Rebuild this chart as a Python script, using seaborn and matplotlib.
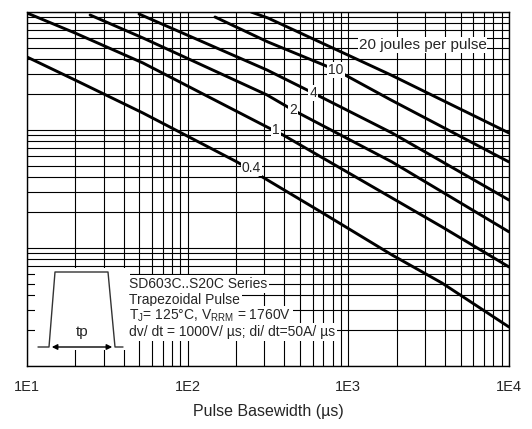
import matplotlib
matplotlib.use("Agg")
import matplotlib.pyplot as plt
import numpy as np
import pandas as pd
import seaborn as sns
from matplotlib.patches import Rectangle
from matplotlib.ticker import LogLocator, NullFormatter, FixedLocator

# curves: pulse basewidth (us) vs peak value
width_04 = [10, 19.9, 52.7, 203, 299, 676, 1870, 3828, 10000]
peak_04 = [4155, 2653, 1393, 536, 392, 202, 87.3, 50.5, 21.4]

width_1 = [10, 19.9, 52.7, 312, 392, 3828, 10000]
peak_1 = [9806, 6640, 3698, 1060, 908, 151, 69.1]

width_2 = [24.7, 52.7, 312, 452, 1870, 3667, 10000]
peak_2 = [9432, 6025, 1981, 1477, 536, 310, 137]

width_4 = [49.8, 312, 603, 1870, 10000]
peak_4 = [9617, 3224, 2060, 944, 255]

width_10 = [148, 316, 838, 1843, 10000]
peak_10 = [9071, 5572, 3224, 1796, 536]

width_20 = [248, 316, 1843, 10000]
peak_20 = [10000, 8895, 2924, 944]

energy_names = ["0.4", "1", "2", "4", "10", "20"]
widths = [width_04, width_1, width_2, width_4, width_10, width_20]
peaks = [peak_04, peak_1, peak_2, peak_4, peak_10, peak_20]

# where each curve's label sits on the line
label_text = ["0.4", "1", "2", "4", "10", "20 joules per pulse"]
label_x = [248, 355, 452, 603, 838, 2894]
label_y = [476, 1000, 1477, 2060, 3224, 5252]

xtick_vals = [10, 100, 1000, 10000]
xtick_names = ["1E1", "1E2", "1E3", "1E4"]

frames = []
for name, w, p in zip(energy_names, widths, peaks):
    frames.append(pd.DataFrame({"width": w, "peak": p, "energy": name}))
df = pd.concat(frames, ignore_index=True)

sns.set_style("white")
plt.rcParams["font.family"] = ["Liberation Sans", "DejaVu Sans"]

fig = plt.figure(figsize=(5.32, 4.29), dpi=100)
ax = fig.add_axes([27 / 532, 1 - 366 / 429, 482 / 532, 354 / 429])

for name in energy_names:
    sub = df[df["energy"] == name]
    sns.lineplot(data=sub, x="width", y="peak", color="black", lw=2.1,
                 ax=ax, legend=False, zorder=3, estimator=None)

ax.set_xscale("log")
ax.set_yscale("log")
ax.set_xlim(10, 10000)
ax.set_ylim(10, 10000)

ax.xaxis.set_major_locator(FixedLocator(xtick_vals))
ax.set_xticklabels(xtick_names)
ax.xaxis.set_minor_locator(LogLocator(base=10, subs=np.arange(2, 10)))
ax.yaxis.set_minor_locator(LogLocator(base=10, subs=np.arange(2, 10)))
ax.xaxis.set_minor_formatter(NullFormatter())
ax.yaxis.set_minor_formatter(NullFormatter())
ax.tick_params(which="both", length=0)
ax.tick_params(axis="x", pad=10, labelsize=10.5)
ax.tick_params(axis="y", labelleft=False)

ax.set_axisbelow(True)
ax.grid(which="both", color="black", lw=0.8)
for sp in ax.spines.values():
    sp.set_color("black")
    sp.set_linewidth(1.0)

ax.set_xlabel("Pulse Basewidth (µs)", fontsize=11.5, labelpad=7)
ax.set_ylabel("")

for txt, lx, ly in zip(label_text, label_x, label_y):
    fs = 11 if len(txt) > 4 else 10
    ax.text(lx, ly, txt, ha="center", va="center", fontsize=fs, zorder=4,
            bbox=dict(facecolor="white", edgecolor="none", pad=0.6))

# inset with the pulse shape and test conditions
px = lambda v: (v - 27) / 482
py = lambda v: (366 - v) / 354

ax.add_patch(Rectangle((px(35), py(350)), px(130) - px(35), py(268) - py(350),
                       transform=ax.transAxes, facecolor="white",
                       edgecolor="none", zorder=2))

ax.plot([px(38), px(49), px(55), px(108), px(115), px(123)],
        [py(347), py(347), py(272), py(272), py(347), py(347)],
        transform=ax.transAxes, color="#333333", lw=1, zorder=4)
ax.annotate("", xy=(px(49), py(347)), xytext=(px(115), py(347)),
            xycoords="axes fraction", textcoords="axes fraction",
            arrowprops=dict(arrowstyle="<|-|>", color="black", lw=1,
                            mutation_scale=8), zorder=4)
ax.text(px(82), py(332), "tp", ha="center", va="center", fontsize=11,
        transform=ax.transAxes, zorder=4)

info_lines = ["SD603C..S20C Series",
              "Trapezoidal Pulse",
              r"T$_\mathregular{J}$= 125°C, V$_\mathregular{RRM}$ = 1760V",
              "dv/ dt = 1000V/ µs; di/ dt=50A/ µs"]
info_y = [284, 300, 316, 332]
for line, yy in zip(info_lines, info_y):
    ax.text(px(129), py(yy), line, ha="left", va="center", fontsize=10,
            transform=ax.transAxes, zorder=4,
            bbox=dict(facecolor="white", edgecolor="none", pad=1.6))

fig.savefig("out.png", dpi=100)
